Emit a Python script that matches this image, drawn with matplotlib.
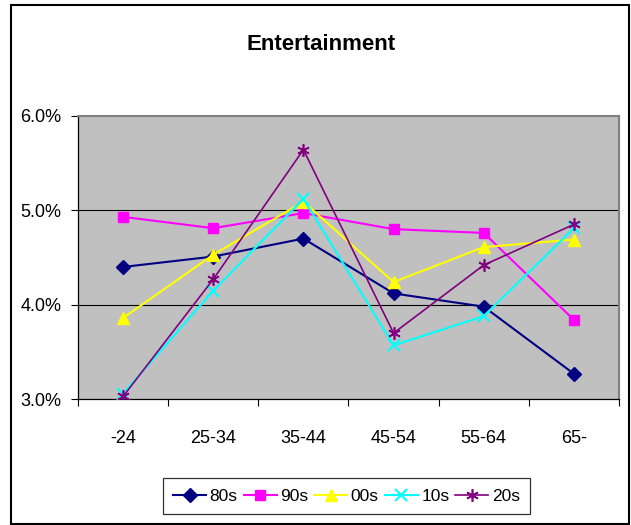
import matplotlib
matplotlib.use("Agg")
import matplotlib.pyplot as plt
from matplotlib.patches import Rectangle
from matplotlib.ticker import FuncFormatter, FixedLocator

categories = ["-24", "25-34", "35-44", "45-54", "55-64", "65-"]
series_names = ["80s", "90s", "00s", "10s", "20s"]
s80 = [4.40, 4.51, 4.70, 4.12, 3.98, 3.27]
s90 = [4.93, 4.81, 4.97, 4.80, 4.76, 3.84]
s00 = [3.86, 4.53, 5.09, 4.24, 4.61, 4.69]
s10 = [3.06, 4.15, 5.12, 3.57, 3.88, 4.81]
s20 = [3.03, 4.27, 5.64, 3.70, 4.42, 4.85]
y_ticks = [3.0, 4.0, 5.0, 6.0]
title = "Entertainment"

plt.rcParams["font.family"] = ["Liberation Sans", "DejaVu Sans"]

W, H = 631, 525
fig = plt.figure(figsize=(W / 100, H / 100), dpi=100)

def px(x0, y0, x1, y1):
    return [x0 / W, 1 - y1 / H, (x1 - x0) / W, (y1 - y0) / H]

# outer chart border
fig.patches.append(Rectangle((11 / W, 1 / H), 618 / W, 519 / H, transform=fig.transFigure,
                             fill=False, edgecolor="black", linewidth=1.5))

ax = fig.add_axes(px(78, 115.7, 619, 399.3))
ax.set_facecolor("#C0C0C0")

styles = [
    dict(color="#000080", marker="D", ms=7, lw=1.5),
    dict(color="#FF00FF", marker="s", ms=7, lw=1.5),
    dict(color="#FFFF00", marker="^", ms=8, lw=1.5),
    dict(color="#00FFFF", marker="x", ms=8, lw=1.5, mew=1.5),
    dict(color="#800080", marker=(6, 2, 0), ms=9, lw=1.2, mew=1.2),
]
xs = list(range(len(categories)))
handles = []
for name, vals, st in zip(series_names, [s80, s90, s00, s10, s20], styles):
    h, = ax.plot(xs, vals, label=name, zorder=3, **st)
    handles.append(h)

ax.set_xlim(-0.5, len(categories) - 0.5)
ax.set_ylim(3.0, 6.0)
for yv in y_ticks[1:-1]:
    ax.axhline(yv, color="black", lw=0.8, zorder=1)

ax.yaxis.set_major_locator(FixedLocator(y_ticks))
ax.yaxis.set_major_formatter(FuncFormatter(lambda v, p: f"{v:.1f}%"))
ax.tick_params(axis="y", direction="out", length=5, width=0.8, labelsize=13, pad=7, colors="black")

ax.set_xticks(xs)
ax.set_xticklabels(categories)
ax.set_xticks([i - 0.5 for i in range(len(categories) + 1)], minor=True)
ax.tick_params(axis="x", which="major", length=0, labelsize=13, pad=22)
ax.tick_params(axis="x", which="minor", direction="out", length=5, width=0.8)

for s in ["left", "bottom"]:
    ax.spines[s].set_color("black")
    ax.spines[s].set_linewidth(0.9)
for s in ["top", "right"]:
    ax.spines[s].set_color("#808080")
    ax.spines[s].set_linewidth(1.5)

fig.text(321.5 / W, 1 - 44 / H, title, ha="center", va="center",
         fontsize=16, fontweight="bold")

leg = fig.legend(handles=handles, loc="center", bbox_to_anchor=(346.5 / W, 1 - 496 / H),
                 ncol=5, frameon=True, fancybox=False, fontsize=12.5, handlelength=1.9,
                 columnspacing=0.35, handletextpad=0.2, borderpad=0.6, borderaxespad=0)
leg.get_frame().set_edgecolor("black")
leg.get_frame().set_linewidth(0.9)

fig.savefig("out.png", dpi=100)
